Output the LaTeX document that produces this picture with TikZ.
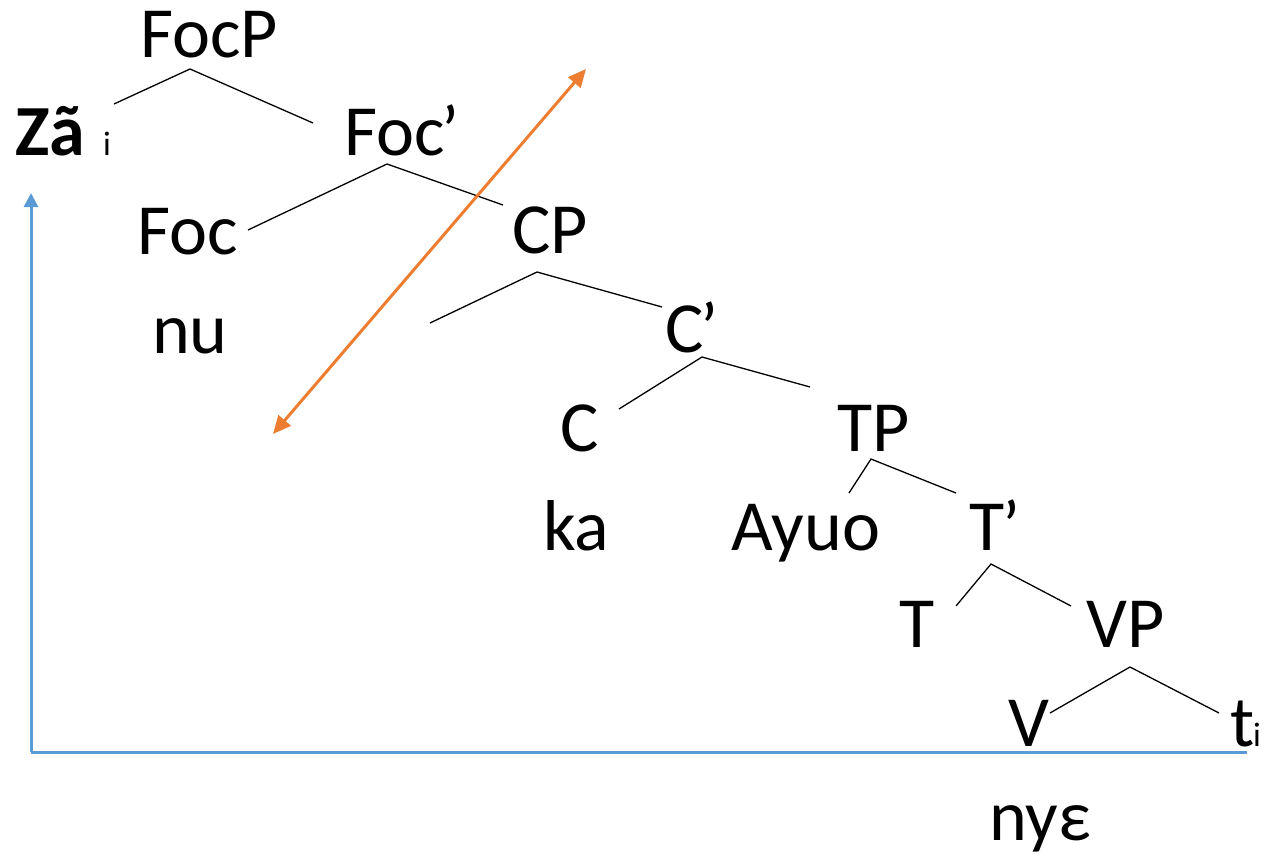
\documentclass[tikz,border=0pt]{standalone}
\usepackage{fontspec}
\setmainfont{Carlito}
\usetikzlibrary{arrows.meta}
\definecolor{blueline}{HTML}{5B9BD5}
\definecolor{orangeline}{HTML}{ED7D31}
\begin{document}
\begin{tikzpicture}[x=1pt,y=-1pt,
  lbl/.style={anchor=base,inner sep=0pt,font=\fontsize{72}{80}\selectfont},
  lblw/.style={anchor=base west,inner sep=0pt,font=\fontsize{72}{80}\selectfont},
  small/.style={anchor=base west,inner sep=0pt,font=\fontsize{34}{38}\selectfont},
  branch/.style={draw=black,line width=1.3pt},
  blueaxis/.style={draw=blueline,line width=3pt,-{Triangle[length=14pt,width=14pt]}},
  orangearrow/.style={draw=orangeline,line width=3pt,{Triangle[length=18pt,width=16pt]}-{Triangle[length=18pt,width=16pt]}}]
\useasboundingbox (0,0) rectangle (1264,857);
% labels
\node[lbl] (FocP) at (209,57) {FocP};
\node[lblw,font=\fontsize{72}{80}\selectfont\bfseries] (Za) at (15,155) {Zã};
\node[small] (Zi) at (103,155) {i};
\node[lbl] (Focbar) at (402,155) {Foc\kern-3pt’};
\node[lbl] (Foc) at (188,254) {Foc};
\node[lbl] (CP) at (550,253) {CP};
\node[lbl] (nu) at (190,353) {nu};
\node[lbl] (Cbar) at (692,352) {C\kern-3pt’};
\node[lbl] (C) at (580,451) {C};
\node[lbl] (TP) at (874,451) {TP};
\node[lbl] (ka) at (576,550) {ka};
\node[lbl] (Ayuo) at (806,550) {Ayuo};
\node[lbl] (Tbar) at (995,550) {T\kern-3pt’};
\node[lbl] (T) at (917,647) {T};
\node[lbl] (VP) at (1126,647) {VP};
\node[lbl] (V) at (1029,746) {V};
\node[lblw] (t) at (1230,746) {t};
\node[small] (ti) at (1253,746) {i};
\node[lbl] (nye) at (1040,840) {nyε};
% branch coordinates
\coordinate (a1) at (190,69);  \coordinate (a1l) at (114,104); \coordinate (a1r) at (313,123);
\coordinate (a2) at (387,164); \coordinate (a2l) at (248,230); \coordinate (a2r) at (503,205);
\coordinate (a3) at (537,272); \coordinate (a3l) at (430,323); \coordinate (a3r) at (662,307);
\coordinate (a4) at (702,357); \coordinate (a4l) at (619,409); \coordinate (a4r) at (810,387);
\coordinate (a5) at (871,459); \coordinate (a5l) at (849,493); \coordinate (a5r) at (956,493);
\coordinate (a6) at (991,564); \coordinate (a6l) at (956,606); \coordinate (a6r) at (1071,606);
\coordinate (a7) at (1130,667); \coordinate (a7l) at (1050,713); \coordinate (a7r) at (1219,713);
\foreach \n in {1,...,7}{
  \draw[branch] (a\n l) -- (a\n) -- (a\n r);
}
% blue axes
\coordinate (origin) at (31,752);
\coordinate (ytop) at (31,193);
\coordinate (xend) at (1247,752);
\draw[blueaxis] (origin) -- (ytop);
\draw[draw=blueline,line width=3pt] (origin) -- (xend);
% orange double arrow
\coordinate (o1) at (273,434);
\coordinate (o2) at (586,69);
\draw[orangearrow] (o1) -- (o2);
\end{tikzpicture}
\end{document}
